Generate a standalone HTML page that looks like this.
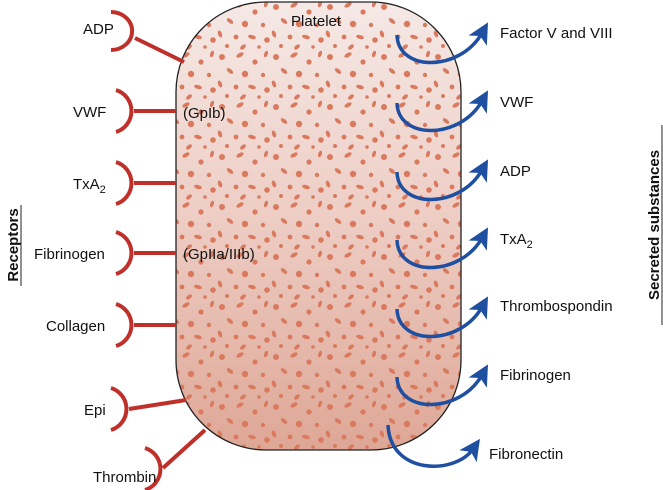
<!DOCTYPE html>
<html><head><meta charset="utf-8"><style>
html,body{margin:0;padding:0;background:#fff}
svg{display:block}
text{font-family:"Liberation Sans",Arial,sans-serif;font-size:15px;fill:#111}
</style></head><body>
<svg width="663" height="490" viewBox="0 0 663 490" xmlns="http://www.w3.org/2000/svg">
<defs>
<linearGradient id="g" x1="0" y1="0" x2="0" y2="1">
<stop offset="0" stop-color="#f5e9e6"/>
<stop offset="0.5" stop-color="#edccc3"/>
<stop offset="1" stop-color="#dea796"/>
</linearGradient>
<pattern id="p" width="54" height="50" patternUnits="userSpaceOnUse">
<g fill="#d97a5e">
<circle cx="6" cy="7" r="3"/>
<ellipse cx="24" cy="5" rx="4" ry="2" transform="rotate(-30 24 5)"/>
<circle cx="39" cy="12" r="2.6"/>
<ellipse cx="50" cy="4" rx="1.8" ry="3.4" transform="rotate(20 50 4)"/>
<ellipse cx="14" cy="21" rx="3.8" ry="2" transform="rotate(40 14 21)"/>
<circle cx="29" cy="24" r="3.2"/>
<circle cx="47" cy="25" r="2.2"/>
<ellipse cx="4" cy="34" rx="2" ry="3.6" transform="rotate(-20 4 34)"/>
<circle cx="20" cy="37" r="2.4"/>
<ellipse cx="36" cy="37" rx="4" ry="2" transform="rotate(15 36 37)"/>
<circle cx="51" cy="40" r="2.8"/>
<circle cx="11" cy="46" r="2"/>
<ellipse cx="27" cy="47" rx="2" ry="3.4" transform="rotate(50 27 47)"/>
<circle cx="43" cy="47" r="1.8"/>
</g>
</pattern>
<marker id="ah" markerWidth="6" markerHeight="6" refX="2.5" refY="3" orient="auto" markerUnits="strokeWidth">
<path d="M0,0 L6,3 L0,6 L1.5,3 Z" fill="#1f4fa0"/>
</marker>
</defs>

<rect x="176" y="2" width="285" height="448" rx="90" ry="90" fill="url(#g)"/>
<rect x="176" y="2" width="285" height="448" rx="90" ry="90" fill="url(#p)"/>
<rect x="176" y="2" width="285" height="448" rx="90" ry="90" fill="none" stroke="#222" stroke-width="1.3"/>

<g fill="none" stroke="#c0302b" stroke-width="4">
<path d="M111,12 A20,18 0 0 1 111,50"/><line x1="135" y1="38" x2="184" y2="62"/>
<path d="M116,90 A22,22 0 0 1 116,132"/><line x1="134" y1="111" x2="176" y2="111"/>
<path d="M116,162 A22,22 0 0 1 116,204"/><line x1="134" y1="183" x2="176" y2="183"/>
<path d="M116,232 A22,22 0 0 1 116,274"/><line x1="134" y1="253" x2="176" y2="253"/>
<path d="M116,304 A22,22 0 0 1 116,346"/><line x1="134" y1="325" x2="176" y2="325"/>
<path d="M111,388 A22,22 0 0 1 111,430"/><line x1="129" y1="409" x2="186" y2="400"/>
<path d="M145,448 A22,22 0 0 1 145,490"/><line x1="163" y1="468" x2="205" y2="430"/>
</g>
<text x="83" y="34">ADP</text>
<text x="73" y="117">VWF</text>
<text x="73" y="189">TxA<tspan font-size="11" dy="4">2</tspan></text>
<text x="34" y="259">Fibrinogen</text>
<text x="46" y="331">Collagen</text>
<text x="84" y="415">Epi</text>
<text x="93" y="482">Thrombin</text>
<text x="291" y="26">Platelet</text>
<text x="183" y="118">(GpIb)</text>
<text x="183" y="259">(GpIIa/IIIb)</text>

<g fill="none" stroke="#1f4fa0" stroke-width="3.5" marker-end="url(#ah)">
<path d="M397,35 C398,72 460,72 482,33"/>
<path d="M397,103 C398,140 460,140 482,101"/>
<path d="M397,172 C398,209 460,209 482,170"/>
<path d="M397,240 C398,277 460,277 482,238"/>
<path d="M397,309 C398,346 460,346 482,307"/>
<path d="M397,377 C398,414 460,414 482,375"/>
<path d="M388,425 C390,475 455,475 473,449"/>
</g>
<text x="500" y="38">Factor V and VIII</text>
<text x="500" y="107">VWF</text>
<text x="500" y="176">ADP</text>
<text x="500" y="244">TxA<tspan font-size="11" dy="4">2</tspan></text>
<text x="500" y="311">Thrombospondin</text>
<text x="500" y="380">Fibrinogen</text>
<text x="489" y="459">Fibronectin</text>

<text transform="translate(18,245) rotate(-90)" text-anchor="middle" font-weight="bold" font-size="16">Receptors</text>
<line x1="21" y1="205" x2="21" y2="286" stroke="#222" stroke-width="1"/>
<text transform="translate(659,225) rotate(-90)" text-anchor="middle" font-weight="bold" font-size="16">Secreted substances</text>
<line x1="662" y1="125" x2="662" y2="325" stroke="#222" stroke-width="1"/>
</svg>
</body></html>
